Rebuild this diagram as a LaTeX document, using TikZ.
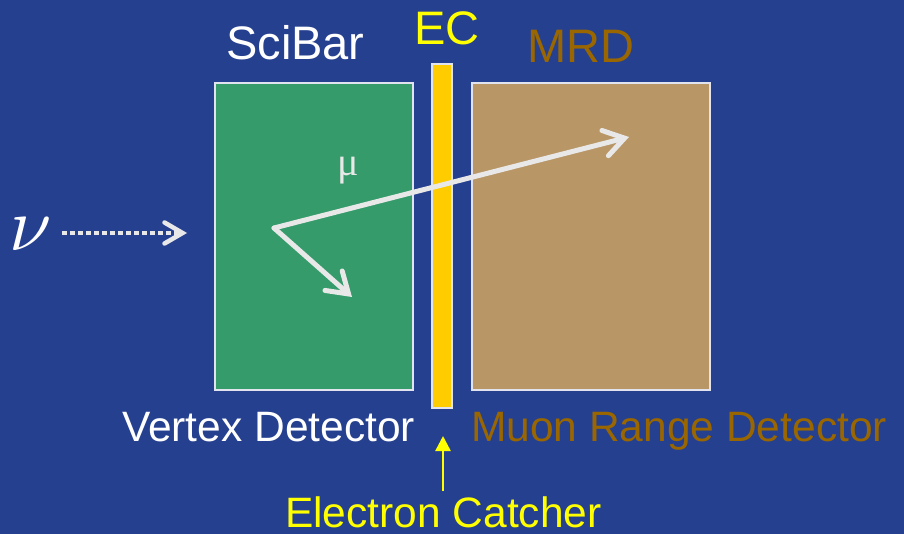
\documentclass[tikz,border=0pt]{standalone}
\usepackage{fontspec}
\setmainfont{Liberation Sans}
\newfontfamily\greekserif{Liberation Serif}
\usetikzlibrary{arrows.meta}
\definecolor{bgblue}{RGB}{38,64,144}
\definecolor{scigreen}{RGB}{53,155,106}
\definecolor{ecyellow}{RGB}{255,204,0}
\definecolor{mrdtan}{RGB}{185,150,102}
\definecolor{mrdbrown}{RGB}{153,102,0}
\definecolor{txtyellow}{RGB}{255,255,0}
\definecolor{track}{RGB}{232,232,232}
\definecolor{edge}{RGB}{225,228,238}
\begin{document}
\begin{tikzpicture}[x=1pt,y=-1pt,
  detbox/.style={draw=edge,line width=2pt,inner sep=0pt,outer sep=0pt},
  title/.style={font=\fontsize{47}{50}\selectfont,anchor=base west,inner sep=0pt},
  caption/.style={font=\fontsize{42.5}{45}\selectfont,anchor=base west,inner sep=0pt},
  trk/.style={draw=track,line width=5pt,line cap=round,line join=round,
    -{Straight Barb[length=20pt,width=26pt,line cap=round]}},
  beam/.style={draw=track,line width=4.5pt,dash pattern=on 4.5pt off 3.5pt,
    -{Straight Barb[length=18pt,width=21pt,line cap=round]}},
  pointer/.style={draw=txtyellow,line width=2.5pt,-{Triangle[length=15pt,width=15pt]}}]
\fill[bgblue] (0,0) rectangle (904,534);
\useasboundingbox (0,0) rectangle (904,534);
% detectors
\node[detbox,fill=scigreen,minimum width=198pt,minimum height=307pt,anchor=north west] (scibar) at (215,83) {};
\node[detbox,fill=ecyellow,minimum width=20pt,minimum height=344pt,anchor=north west] (ec) at (432,64) {};
\node[detbox,fill=mrdtan,minimum width=238pt,minimum height=307pt,anchor=north west] (mrd) at (472,83) {};
% titles
\node[title,text=white] (tsci) at (226,60) {SciBar};
\node[title,text=txtyellow] (tec) at (414,45) {EC};
\node[title,text=mrdbrown] (tmrd) at (527,63) {MRD};
% captions
\node[caption,text=white] (cvd) at (122,441) {Vertex Detector};
\node[caption,text=mrdbrown] (cmrd) at (471,441) {Muon Range Detector};
\node[caption,text=txtyellow] (cec) at (285,527) {Electron Catcher};
% pointer to EC
\coordinate (ptail) at (443,491);
\coordinate (phead) at (443,436);
\draw[pointer] (ptail) -- (phead);
% neutrino
\node[text=white,inner sep=0pt,anchor=base] (nu) at (31,251) {\scalebox{7.6}{$\nu$}};
\coordinate (nus) at (62,233);
\coordinate (nue) at (187,233);
\draw[beam] (nus) -- (nue);
% tracks
\coordinate (vtx) at (274,228);
\coordinate (muend) at (629,137);
\coordinate (pend) at (352,297);
\draw[trk] (vtx) -- (muend);
\draw[trk] (vtx) -- (pend);
\node[font=\greekserif\fontsize{40}{40}\selectfont,text=track,inner sep=0pt,anchor=base] (mu) at (348,176) {μ};
\end{tikzpicture}
\end{document}
